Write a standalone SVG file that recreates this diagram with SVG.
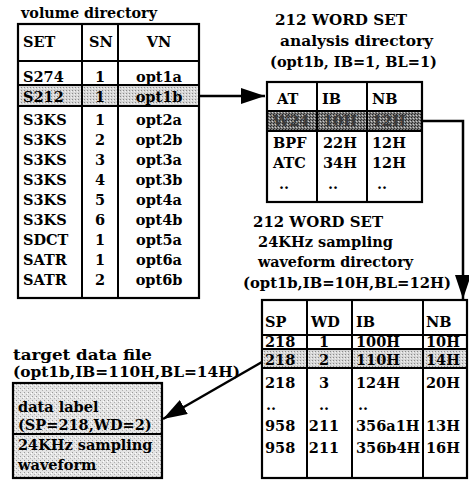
<svg xmlns="http://www.w3.org/2000/svg" width="469" height="480" viewBox="0 0 469 480">
<defs>
<style>
text{font-family:"DejaVu Serif","Liberation Serif",serif;font-weight:bold;fill:#000}
.t{font-size:15px}
.c{font-size:14.5px}
.m{text-anchor:middle}
.box{fill:#fff;stroke:#000;stroke-width:2.2}
.ln{stroke:#000;stroke-width:2;fill:none}
.con{stroke:#000;stroke-width:2.5;fill:none}
.lite{fill:url(#lite)}
.dark{fill:url(#dark)}
.spk{fill:url(#spk)}
.dim{fill:#3a3a3a}
</style>
<pattern id="lite" width="3" height="3" patternUnits="userSpaceOnUse">
<rect width="3" height="3" fill="#d6d6d6"/><rect x="0" y="0" width="1" height="1" fill="#8a8a8a"/><rect x="2" y="1" width="1" height="1" fill="#f2f2f2"/>
</pattern>
<pattern id="dark" width="3" height="3" patternUnits="userSpaceOnUse">
<rect width="3" height="3" fill="#7a7a7a"/><rect x="0" y="0" width="1" height="1" fill="#222"/><rect x="2" y="1" width="1" height="1" fill="#cfcfcf"/><rect x="1" y="2" width="1" height="1" fill="#333"/>
</pattern>
<pattern id="spk" width="4" height="4" patternUnits="userSpaceOnUse">
<rect width="4" height="4" fill="#e4e4e4"/><rect x="0" y="0" width="1" height="1" fill="#9a9a9a"/><rect x="2" y="2" width="1" height="1" fill="#b0b0b0"/><rect x="3" y="1" width="1" height="1" fill="#fff"/>
</pattern>
<marker id="ah" markerUnits="userSpaceOnUse" markerWidth="26" markerHeight="18" refX="24" refY="8" orient="auto" viewBox="0 0 26 18">
<path d="M0,0 L24,8 L0,16 Z" fill="#000"/>
</marker>
</defs>

<g id="volume-directory">
<text class="t" x="21" y="18" textLength="136" lengthAdjust="spacingAndGlyphs">volume directory</text>
<rect class="box" x="18" y="24" width="181" height="274"/>
<rect class="lite" x="19" y="86" width="179" height="20"/>
<line class="ln" x1="18" y1="61" x2="199" y2="61"/>
<line class="ln" x1="18" y1="85" x2="199" y2="85"/>
<line class="ln" x1="18" y1="106" x2="199" y2="106"/>
<line class="ln" x1="82" y1="24" x2="82" y2="298"/>
<line class="ln" x1="118" y1="24" x2="118" y2="298"/>
<text class="c" x="23" y="47">SET</text><text class="c" x="89" y="47">SN</text><text class="c m" x="159" y="47">VN</text>
<text class="c" x="23" y="82">S274</text><text class="c m" x="100" y="82">1</text><text class="c m" x="159" y="82">opt1a</text>
<text class="c" x="23" y="102">S212</text><text class="c m" x="100" y="102">1</text><text class="c m" x="159" y="102">opt1b</text>
<text class="c" x="23" y="125">S3KS</text><text class="c m" x="100" y="125">1</text><text class="c m" x="159" y="125">opt2a</text>
<text class="c" x="23" y="145">S3KS</text><text class="c m" x="100" y="145">2</text><text class="c m" x="159" y="145">opt2b</text>
<text class="c" x="23" y="165">S3KS</text><text class="c m" x="100" y="165">3</text><text class="c m" x="159" y="165">opt3a</text>
<text class="c" x="23" y="185">S3KS</text><text class="c m" x="100" y="185">4</text><text class="c m" x="159" y="185">opt3b</text>
<text class="c" x="23" y="205">S3KS</text><text class="c m" x="100" y="205">5</text><text class="c m" x="159" y="205">opt4a</text>
<text class="c" x="23" y="225">S3KS</text><text class="c m" x="100" y="225">6</text><text class="c m" x="159" y="225">opt4b</text>
<text class="c" x="23" y="245">SDCT</text><text class="c m" x="100" y="245">1</text><text class="c m" x="159" y="245">opt5a</text>
<text class="c" x="23" y="265">SATR</text><text class="c m" x="100" y="265">1</text><text class="c m" x="159" y="265">opt6a</text>
<text class="c" x="23" y="285">SATR</text><text class="c m" x="100" y="285">2</text><text class="c m" x="159" y="285">opt6b</text>
</g>

<g id="analysis-directory">
<text class="t" x="275" y="25" textLength="132" lengthAdjust="spacingAndGlyphs">212 WORD SET</text>
<text class="t" x="280" y="46" textLength="153" lengthAdjust="spacingAndGlyphs">analysis directory</text>
<text class="t" x="270" y="67" textLength="167" lengthAdjust="spacingAndGlyphs">(opt1b, IB=1, BL=1)</text>
<rect class="box" x="267" y="82" width="155" height="120"/>
<rect class="dark" x="268" y="111" width="153" height="20"/>
<line class="ln" x1="267" y1="111" x2="422" y2="111"/>
<line class="ln" x1="267" y1="131" x2="422" y2="131"/>
<line class="ln" x1="317" y1="82" x2="317" y2="202"/>
<line class="ln" x1="367" y1="82" x2="367" y2="202"/>
<text class="c" x="277" y="104">AT</text><text class="c" x="322" y="104">IB</text><text class="c" x="372" y="104">NB</text>
<text class="c dim" x="273" y="126">W24</text><text class="c dim" x="323" y="126">10H</text><text class="c dim" x="372" y="126">12H</text>
<text class="c" x="273" y="148">BPF</text><text class="c" x="323" y="148">22H</text><text class="c" x="372" y="148">12H</text>
<text class="c" x="273" y="168">ATC</text><text class="c" x="323" y="168">34H</text><text class="c" x="372" y="168">12H</text>
<text class="c" x="279" y="189">..</text><text class="c" x="328" y="189">..</text><text class="c" x="377" y="189">..</text>
</g>

<g id="waveform-directory">
<text class="t" x="253" y="227" textLength="130" lengthAdjust="spacingAndGlyphs">212 WORD SET</text>
<text class="t" x="258" y="247" textLength="135" lengthAdjust="spacingAndGlyphs">24KHz sampling</text>
<text class="t" x="258" y="267" textLength="155" lengthAdjust="spacingAndGlyphs">waveform directory</text>
<text class="t" x="243" y="288" textLength="208" lengthAdjust="spacingAndGlyphs">(opt1b,IB=10H,BL=12H)</text>
<rect class="box" x="262" y="300" width="205" height="178"/>
<rect class="lite" x="263" y="349" width="203" height="19"/>
<line class="ln" x1="262" y1="335" x2="467" y2="335"/>
<line class="ln" x1="262" y1="349" x2="467" y2="349"/>
<line class="ln" x1="262" y1="368" x2="467" y2="368"/>
<line class="ln" x1="307" y1="300" x2="307" y2="478"/>
<line class="ln" x1="352" y1="300" x2="352" y2="478"/>
<line class="ln" x1="423" y1="300" x2="423" y2="478"/>
<text class="c" x="265" y="327">SP</text><text class="c" x="311" y="327">WD</text><text class="c" x="356" y="327">IB</text><text class="c" x="426" y="327">NB</text>
<text class="c" x="265" y="347">218</text><text class="c m" x="324" y="347">1</text><text class="c" x="356" y="347">100H</text><text class="c" x="426" y="347">10H</text>
<text class="c" x="265" y="365">218</text><text class="c m" x="324" y="365">2</text><text class="c" x="356" y="365">110H</text><text class="c" x="426" y="365">14H</text>
<text class="c" x="265" y="388">218</text><text class="c m" x="324" y="388">3</text><text class="c" x="356" y="388">124H</text><text class="c" x="426" y="388">20H</text>
<text class="c" x="266" y="410">..</text><text class="c" x="319" y="410">..</text><text class="c" x="358" y="410">..</text>
<text class="c" x="265" y="431">958</text><text class="c m" x="324" y="431">211</text><text class="c" x="356" y="431">356a1H</text><text class="c" x="426" y="431">13H</text>
<text class="c" x="265" y="453">958</text><text class="c m" x="324" y="453">211</text><text class="c" x="356" y="453">356b4H</text><text class="c" x="426" y="453">16H</text>
</g>

<g id="target-data-file">
<text class="t" x="13" y="360" textLength="139" lengthAdjust="spacingAndGlyphs">target data file</text>
<text class="t" x="13" y="377" textLength="227" lengthAdjust="spacingAndGlyphs">(opt1b,IB=110H,BL=14H)</text>
<rect class="box spk" x="13" y="383" width="149" height="95"/>
<line class="ln" x1="13" y1="434" x2="162" y2="434"/>
<text class="c" x="18" y="412">data label</text>
<text class="c" x="18" y="430">(SP=218,WD=2)</text>
<text class="c" x="18" y="450">24KHz sampling</text>
<text class="c" x="18" y="470">waveform</text>
</g>

<g id="connectors">
<line class="con" x1="200" y1="96" x2="265" y2="96" marker-end="url(#ah)"/>
<polyline class="con" points="422,121 463,121 463,299" marker-end="url(#ah)"/>
<line class="con" x1="262" y1="362" x2="163" y2="419" marker-end="url(#ah)"/>
</g>
</svg>
